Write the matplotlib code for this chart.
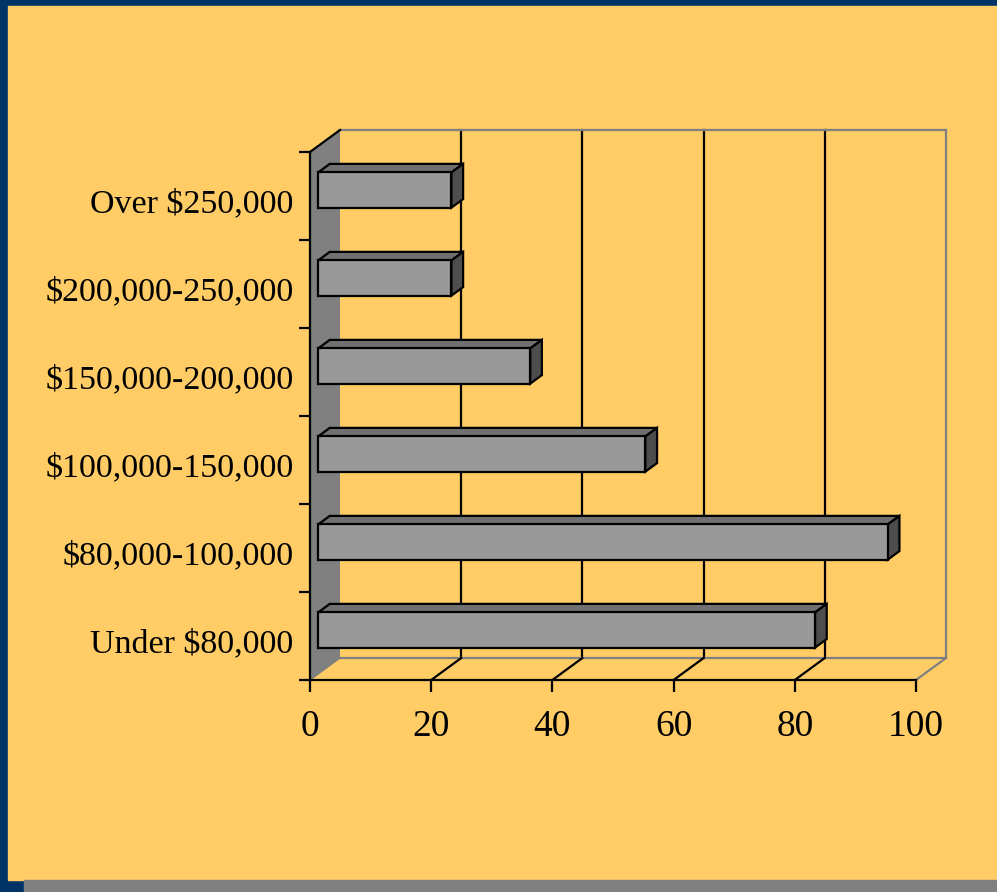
import matplotlib.pyplot as plt
from matplotlib.patches import Polygon, Rectangle
from matplotlib.transforms import ScaledTranslation

# household income brackets, bottom to top
categorias = ["Under $80,000", "$80,000-100,000", "$100,000-150,000",
              "$150,000-200,000", "$200,000-250,000", "Over $250,000"]
valores = [82, 94, 54, 35, 22, 22]
ticksX = [0, 20, 40, 60, 80, 100]

azul = "#003366"
amarelo = "#FFCC66"
cinza = "#808080"

plt.rcParams['font.family'] = ['Liberation Serif', 'DejaVu Serif']

fig = plt.figure(figsize=(9.97, 8.92), dpi=100, facecolor=azul)
W, H = 997, 892

# fundo amarelo e faixa cinzenta em baixo
fig.patches.append(Rectangle((8 / W, (H - 880) / H), (W - 8) / W, 874 / H,
                             transform=fig.transFigure, color=amarelo, zorder=-10))
fig.patches.append(Rectangle((24 / W, 0), (W - 24) / W, 12 / H,
                             transform=fig.transFigure, color=cinza, zorder=-10))

ax = fig.add_axes([310 / W, (H - 680) / H, 606 / W, 528 / H])
ax.set_facecolor("none")
ax.set_xlim(0, 100)
ax.set_ylim(-0.5, 5.5)

# profundidade (efeito 3D) em unidades dos dados
DX = 30 / 6.06
DY = 22 / 88


def p(x, y, f):
    return (x + f * DX, y + f * DY)


def linha(a, b, cor, lw=1.6, z=2):
    ax.plot([a[0], b[0]], [a[1], b[1]], color=cor, lw=lw, zorder=z,
            clip_on=False, solid_capstyle="projecting")


y0, y1 = -0.5, 5.5

# parede do fundo
for v in ticksX[1:-1]:
    linha(p(v, y0, 1), p(v, y1, 1), "black")
linha(p(0, y1, 1), p(100, y1, 1), cinza)
linha(p(100, y0, 1), p(100, y1, 1), cinza)
linha(p(0, y0, 1), p(100, y0, 1), cinza)

# parede lateral
lado = Polygon([p(0, y0, 0), p(0, y1, 0), p(0, y1, 1), p(0, y0, 1)],
               closed=True, facecolor=cinza, edgecolor="none", zorder=1,
               clip_on=False)
ax.add_patch(lado)
linha(p(0, y1, 0), p(0, y1, 1), "black")
linha(p(0, y0, 0), p(0, y0, 1), cinza, lw=1)

# chão
for v in ticksX[1:-1]:
    linha(p(v, y0, 0), p(v, y0, 1), "black")
linha(p(100, y0, 0), p(100, y0, 1), cinza)

# barras
f0, f1 = 0.27, 0.66
h = 0.2
for i, v in enumerate(valores):
    b, t = i - h, i + h
    frente = [p(0, b, f0), p(v, b, f0), p(v, t, f0), p(0, t, f0)]
    topo = [p(0, t, f0), p(v, t, f0), p(v, t, f1), p(0, t, f1)]
    lateral = [p(v, b, f0), p(v, b, f1), p(v, t, f1), p(v, t, f0)]
    for pts, cor in [(topo, "#707070"), (lateral, "#4d4d4d"), (frente, "#999999")]:
        ax.add_patch(Polygon(pts, closed=True, facecolor=cor, edgecolor="black",
                             lw=1.6, joinstyle="miter", zorder=5, clip_on=False))

# eixos
for s in ["top", "right"]:
    ax.spines[s].set_visible(False)
for s in ["left", "bottom"]:
    ax.spines[s].set_linewidth(1.6)
    ax.spines[s].set_zorder(3)

ax.set_xticks(ticksX)
ax.set_xticklabels([str(v) for v in ticksX], fontsize=27)
ax.tick_params(axis="x", length=8.6, width=1.6, pad=13)

ax.set_yticks([k - 0.5 for k in range(7)])
ax.set_yticklabels([])
ax.tick_params(axis="y", which="major", length=8, width=1.6)
ax.set_yticks(range(len(categorias)), minor=True)
ax.set_yticklabels(categorias, minor=True, fontsize=24.5)
ax.tick_params(axis="y", which="minor", length=0, pad=12)
desce = ScaledTranslation(0, -5 / 100, fig.dpi_scale_trans)
for lbl in ax.get_yticklabels(minor=True):
    lbl.set_transform(lbl.get_transform() + desce)

plt.savefig("out.png", dpi=100, facecolor=azul)
